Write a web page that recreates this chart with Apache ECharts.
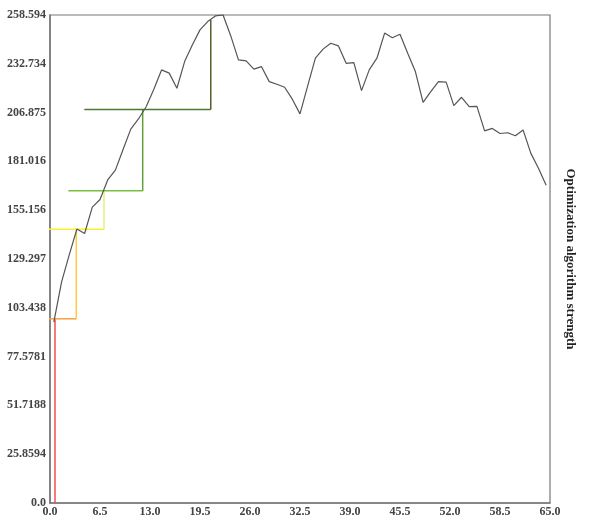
<!DOCTYPE html>
<html>
<head>
<meta charset="utf-8">
<style>html,body{margin:0;padding:0;background:#fff;}#c{width:612px;height:522px;}</style>
<script src="https://cdn.jsdelivr.net/npm/echarts@6/dist/echarts.min.js"></script>
</head>
<body>
<div id="c"></div>
<script>
// Main curve: x positions and values
const xPos = [];
for (let k = 0; k < 65; k++) xPos.push(k + 0.5);
const strength = [95.9,117,131.5,145.2,142.8,156.8,160.8,171.2,176.4,187.3,198.1,203.5,210,219.3,229.5,227.8,219.8,233.9,242.7,250.7,255.1,258.1,258.6,247.5,234.8,234.3,229.9,231.2,223.3,221.9,220.3,214,206.2,221,235.7,240.5,243.6,242.2,233,233.4,218.5,229.5,235.7,249,246.5,248.4,238.3,228.6,212.3,218,223.3,223,210.6,215,210,210.2,197.2,198.5,195.8,196.2,194.6,197.7,185.4,177.4,168.4];
const yTickLabels = ["0.0","25.8594","51.7188","77.5781","103.438","129.297","155.156","181.016","206.875","232.734","258.594"];
const xTickLabels = ["0.0","6.5","13.0","19.5","26.0","32.5","39.0","45.5","52.0","58.5","65.0"];
// Step segments: [x1, y1, x2, y2]
const steps = [
  [0.65, 0, 0.65, 97.6],
  [-0.2, 97.6, 3.42, 97.6],
  [3.42, 97.6, 3.42, 145.0],
  [-0.2, 145.0, 7.02, 145.0],
  [7.02, 145.0, 7.02, 165.4],
  [2.38, 165.4, 12.05, 165.4],
  [12.05, 165.4, 12.05, 208.5],
  [4.46, 208.5, 20.9, 208.5],
  [20.9, 208.5, 20.9, 256.0]
];
const stepColors = ["#f05050","#f8a040","#ffc840","#f8f030","#e0f080","#78c040","#62a038","#4e7a30","#5a5a2a"];

const chart = echarts.init(document.getElementById('c'), null, {renderer:'canvas'});
const labelFont = {fontFamily:'Liberation Serif', fontWeight:'bold', fontSize:12, color:'#444'};
const series = steps.map((s, i) => ({
  type:'line', data:[[s[0],s[1]],[s[2],s[3]]], symbol:'none', clip:false, silent:true,
  lineStyle:{color:stepColors[i], width:1.5}, z:2
}));
series.push({
  type:'line', data: xPos.map((x,i)=>[x,strength[i]]), symbol:'none',
  lineStyle:{color:'#555', width:1.2}, z:3, clip:false
});
chart.setOption({
  animation:false,
  grid:{left:50, right:62, top:15, bottom:19, show:true, borderColor:'#777', borderWidth:1.2},
  xAxis:{type:'value', min:0, max:65, interval:6.5,
    axisLine:{show:true, lineStyle:{color:'#777', width:1.5}}, axisTick:{show:false},
    splitLine:{show:false},
    axisLabel:Object.assign({margin:3, formatter:v=>xTickLabels[Math.round(v/6.5)]}, labelFont)},
  yAxis:[{type:'value', min:0, max:258.594, interval:25.8594,
    axisLine:{show:true, lineStyle:{color:'#777', width:1.5}}, axisTick:{show:false},
    splitLine:{show:false},
    axisLabel:Object.assign({margin:4, formatter:v=>yTickLabels[Math.round(v/25.8594)]}, labelFont)},
   {type:'value', position:'right', min:0, max:258.594, interval:25.8594,
    name:'Optimization algorithm strength', nameLocation:'middle', nameRotate:-90, nameGap:14,
    nameTextStyle:{fontFamily:'Liberation Serif', fontWeight:'bold', fontSize:13, color:'#222'},
    axisLine:{show:false}, axisTick:{show:false}, axisLabel:{show:false}, splitLine:{show:false}}],
  series:series
});
</script>
</body>
</html>
